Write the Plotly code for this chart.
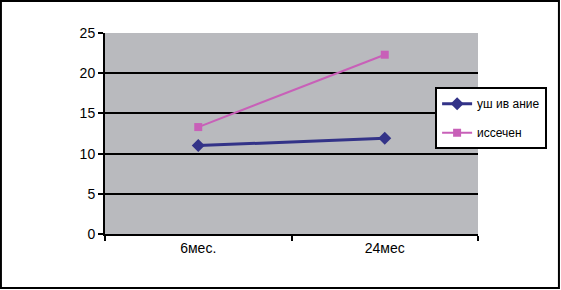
import plotly.graph_objects as go

categories = ["6мес.", "24мес"]
series_names = ["уш ив ание", "иссечен"]
values_blue = [11.0, 11.9]
values_pink = [13.3, 22.3]
y_ticks = [0, 5, 10, 15, 20, 25]

fig = go.Figure()
fig.add_trace(go.Scatter(
    x=categories, y=values_blue, name=series_names[0], mode="lines+markers",
    legendgroup="a",
    line=dict(color="#333388", width=3),
    marker=dict(symbol="diamond", size=10, color="#333388"),
))
fig.add_trace(go.Scatter(
    x=categories, y=values_pink, name=series_names[1], mode="lines+markers",
    legendgroup="b",
    line=dict(color="#c860b8", width=2),
    marker=dict(symbol="square", size=8, color="#c860b8"),
))

fig.update_layout(
    width=561, height=290,
    margin=dict(l=105, r=83, t=33, b=56),
    paper_bgcolor="white",
    plot_bgcolor="#b9babe",
    font=dict(family="Liberation Sans, Arial, sans-serif", size=14, color="black"),
    showlegend=True,
    legend=dict(
        x=0.885, y=0.73, xanchor="left", yanchor="top",
        bgcolor="white", bordercolor="black", borderwidth=2,
        font=dict(size=12, color="black"),
        tracegroupgap=10,
    ),
    xaxis=dict(
        type="category", showgrid=False, showline=True, linecolor="black", linewidth=2,
        ticks="outside", tickson="boundaries", ticklen=5, tickwidth=2, tickcolor="black",
        range=[-0.5, 1.5], fixedrange=True,
    ),
    yaxis=dict(
        range=[0, 25], tickvals=y_ticks, showgrid=True, gridcolor="black", gridwidth=1.5,
        showline=True, linecolor="black", linewidth=2, zeroline=False,
        ticks="outside", ticklen=5, tickwidth=2, tickcolor="black",
        fixedrange=True,
    ),
    shapes=[dict(
        type="rect", xref="paper", yref="paper",
        x0=-0.279, x1=1.217, y0=-0.269, y1=1.159,
        line=dict(color="black", width=2), fillcolor="rgba(0,0,0,0)",
    )],
)

fig.write_html("out.html", config={"displayModeBar": False},
               post_script="document.body.style.margin='0';")
